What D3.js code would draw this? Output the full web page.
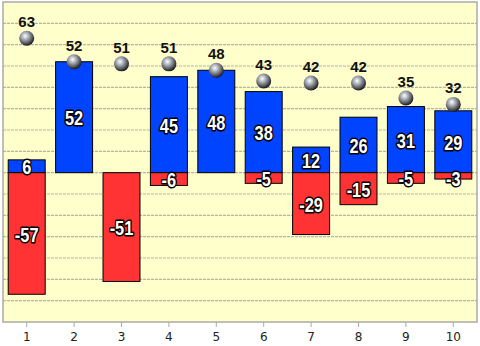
<!DOCTYPE html>
<html><head><meta charset="utf-8">
<script src="https://cdn.jsdelivr.net/npm/d3@7"></script>
<style>body{margin:0;background:#fff}</style>
</head><body>
<svg id="c" width="480" height="346"></svg>
<script>
const categories = ["1","2","3","4","5","6","7","8","9","10"];
const positives = [6, 52, 0, 45, 48, 38, 12, 26, 31, 29];
const negatives = [-57, 0, -51, -6, 0, -5, -29, -15, -5, -3];
const totals = [63, 52, 51, 51, 48, 43, 42, 42, 35, 32];
const gridValues = [-60,-50,-40,-30,-20,-10,0,10,20,30,40,50,60,70];

const svg = d3.select("#c");
const L = 3, R = 477, T = 2, B = 322;
const x = d3.scaleBand().domain(categories).range([L, R]).paddingInner(0.22).paddingOuter(0.11);
const y = d3.scaleLinear().domain([-70, 80]).range([B, T]);

const defs = svg.append("defs");
const g = defs.append("radialGradient").attr("id","ball").attr("cx","40%").attr("cy","35%").attr("r","65%");
g.append("stop").attr("offset","0%").attr("stop-color","#ffffff");
g.append("stop").attr("offset","30%").attr("stop-color","#b8bcc4");
g.append("stop").attr("offset","75%").attr("stop-color","#55585e");
g.append("stop").attr("offset","100%").attr("stop-color","#1a1a1a");

svg.append("rect").attr("x",L).attr("y",T).attr("width",R-L).attr("height",B-T).attr("fill","#ffffcc");

svg.append("g").selectAll("line").data(gridValues).join("line")
  .attr("x1",L).attr("x2",R).attr("y1",d=>y(d)).attr("y2",d=>y(d))
  .attr("stroke","#b4b4ac").attr("stroke-width",1.2).attr("stroke-dasharray","3,1");

svg.append("rect").attr("x",L).attr("y",T).attr("width",R-L).attr("height",B-T)
  .attr("fill","none").attr("stroke","#aaaaaa").attr("stroke-width",1.5);

const xa = svg.append("g").attr("transform",`translate(0,${B})`)
  .call(d3.axisBottom(x).tickSize(5).tickPadding(5));
xa.select(".domain").remove();
xa.selectAll("line").attr("stroke","#aaaaaa");
xa.selectAll("text").attr("font-family","DejaVu Sans").attr("font-size",12).attr("fill","#222");

const bw = x.bandwidth();
svg.append("g").selectAll("rect").data(categories.map((c,i)=>({c,v:positives[i]})).filter(d=>d.v!==0)).join("rect")
  .attr("x",d=>x(d.c)).attr("width",bw).attr("y",d=>y(d.v)).attr("height",d=>y(0)-y(d.v))
  .attr("fill","#0044ff").attr("stroke","#000").attr("stroke-width",1);
svg.append("g").selectAll("rect").data(categories.map((c,i)=>({c,v:negatives[i]})).filter(d=>d.v!==0)).join("rect")
  .attr("x",d=>x(d.c)).attr("width",bw).attr("y",y(0)).attr("height",d=>y(d.v)-y(0))
  .attr("fill","#ff3333").attr("stroke","#000").attr("stroke-width",1);

const lbl = (sel)=>sel.attr("text-anchor","middle").attr("dominant-baseline","central")
  .attr("font-family","'Liberation Sans',Arial,sans-serif")
  .attr("font-weight","bold").attr("font-size",20).attr("fill","#fff")
  .attr("stroke","#000").attr("stroke-width",3).attr("paint-order","stroke").attr("stroke-linejoin","round");

svg.append("g").selectAll("text").data(categories.map((c,i)=>({c,v:positives[i]})).filter(d=>d.v!==0)).join("text")
  .attr("transform",d=>`translate(${x(d.c)+bw/2},${(y(d.v)+y(0))/2+1}) scale(0.82,1)`).text(d=>d.v).call(lbl);
svg.append("g").selectAll("text").data(categories.map((c,i)=>({c,v:negatives[i]})).filter(d=>d.v!==0)).join("text")
  .attr("transform",d=>`translate(${x(d.c)+bw/2},${Math.max((y(d.v)+y(0))/2+1, y(0)+6)}) scale(0.82,1)`).text(d=>d.v).call(lbl);

svg.append("g").selectAll("circle").data(categories.map((c,i)=>({c,v:totals[i]}))).join("circle")
  .attr("cx",d=>x(d.c)+bw/2).attr("cy",d=>y(d.v)).attr("r",7.5).attr("fill","url(#ball)");
svg.append("g").selectAll("text").data(categories.map((c,i)=>({c,v:totals[i]}))).join("text")
  .attr("x",d=>x(d.c)+bw/2).attr("y",d=>y(d.v)-11).attr("text-anchor","middle")
  .attr("font-family","'Liberation Sans',Arial,sans-serif").attr("font-weight","bold").attr("font-size",15)
  .attr("fill","#111").text(d=>d.v);
</script>
</body></html>
